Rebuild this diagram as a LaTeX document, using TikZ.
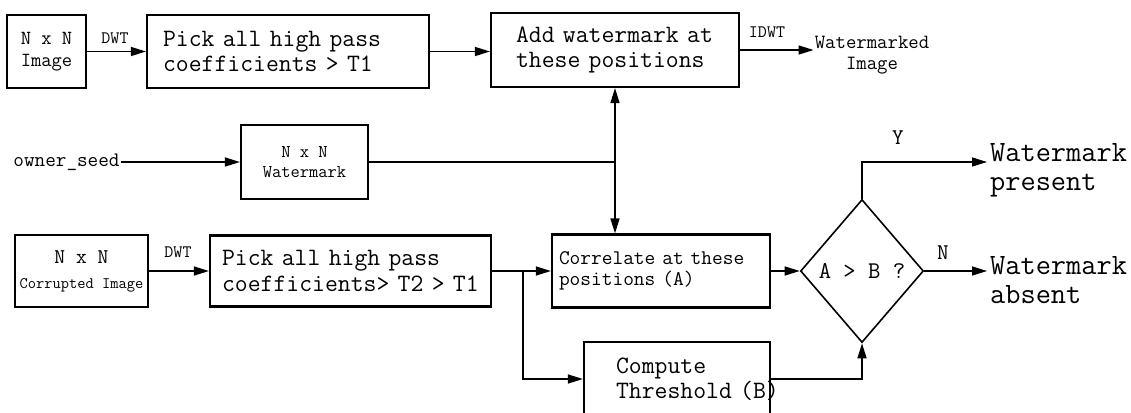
\documentclass[tikz,border=0pt]{standalone}
\renewcommand*\familydefault{\ttdefault}
\usetikzlibrary{arrows.meta,shapes.geometric}

\begin{document}
\begin{tikzpicture}[x=1pt, y=-1pt,
  blk/.style={draw, line width=2.2pt, inner ysep=0pt, align=left,
    font=\fontsize{25}{25.5}\selectfont},
  sml/.style={draw, line width=2.2pt, inner sep=0pt, align=center},
  lbl/.style={inner sep=1pt, font=\fontsize{17.5}{18}\selectfont},
  outtxt/.style={inner sep=3pt, anchor=west, align=left,
    font=\fontsize{29.5}{29}\selectfont},
  conn/.style={line width=1.4pt, -{Triangle[length=15pt,width=9pt]}},
  line/.style={line width=1.4pt}]

\useasboundingbox (0,0) rectangle (1131,412);

% embedding path (top)
\node[sml, minimum width=79, minimum height=73, font=\fontsize{20}{22}\selectfont]
  (img) at (46.5,51.5) {N x N\\Image};
\node[blk, text width=250pt, inner xsep=16pt, minimum height=73pt]
  (pick1) at (288,51.5) {Pick all high pass\\coefficients > T1};
\node[blk, text width=198pt, inner xsep=25pt, minimum height=74pt]
  (addwm) at (615,50) {Add~watermark~at\\these positions};
\node[lbl, align=center, font=\fontsize{20.2}{21}\selectfont]
  (wmout) at (872,55) {Watermarked\\Image};

% watermark generation
\node[lbl, font=\fontsize{20.6}{20}\selectfont] (seed) at (66.5,162) {owner\_seed};
\node[sml, minimum width=127, minimum height=74, font=\fontsize{18}{20}\selectfont]
  (wmbox) at (304.5,162) {N x N\\Watermark};

% detection path (bottom)
\node[sml, minimum width=133, minimum height=72, font=\fontsize{16}{25}\selectfont]
  (corrupt) at (81.5,271) {{\fontsize{21}{22}\selectfont N x N}\\Corrupted Image};
\node[blk, text width=257pt, inner xsep=12pt, minimum height=71pt]
  (pick2) at (350.5,271) {Pick all high pass\\coefficients>~T2~>~T1};
\node[blk, text width=204pt, inner xsep=7pt, minimum height=73pt,
  font=\fontsize{20.8}{21}\selectfont]
  (corr) at (661,271) {Correlate at these\\positions (A)};
\node[blk, text width=122pt, inner xsep=32pt, minimum height=74pt]
  (thresh) at (677,379) {Compute\\Threshold~(B)};
\node[draw, diamond, line width=1.6pt, inner sep=0pt, minimum width=123pt,
  minimum height=143pt, font=\fontsize{24}{22}\selectfont]
  (dec) at (862,271) {A > B ?};
\node[outtxt] (present) at (987,170) {Watermark\\present};
\node[outtxt] (absent) at (987,280) {Watermark\\absent};

% edge labels
\node[lbl] (dwt1) at (115,38) {DWT};
\node[lbl] (dwt2) at (178,252) {DWT};
\node[lbl] (idwt) at (767,32) {IDWT};
\node[lbl, font=\fontsize{22.5}{22}\selectfont] (yes) at (898,138) {Y};
\node[lbl, font=\fontsize{22.5}{22}\selectfont] (no) at (943,253) {N};

% connectors
\draw[conn] (img) -- (pick1);
\draw[conn] (pick1.east) -- (pick1.east -| addwm.west);
\draw[conn] (addwm.east) -- (addwm.east -| wmout.west);
\draw[conn] (seed) -- (wmbox);
\draw[line] (wmbox.east) -- (wmbox.east -| addwm.south);
\draw[conn, {Triangle[length=15pt,width=9pt]}-{Triangle[length=15pt,width=9pt]}]
  (addwm.south) -- (addwm.south |- corr.north);
\draw[conn] (corrupt) -- (pick2);
\coordinate (split) at (523,271);
\draw[conn] (pick2) -- (corr);
\draw[conn] (split) |- (thresh.west);
\draw[conn] (corr) -- (dec);
\draw[conn] (thresh.east) -| (dec.south);
\draw[conn] (dec.north) |- ([yshift=8pt]present.west);
\draw[conn] (dec.east) -- (dec.east -| absent.west);

\end{tikzpicture}
\end{document}
